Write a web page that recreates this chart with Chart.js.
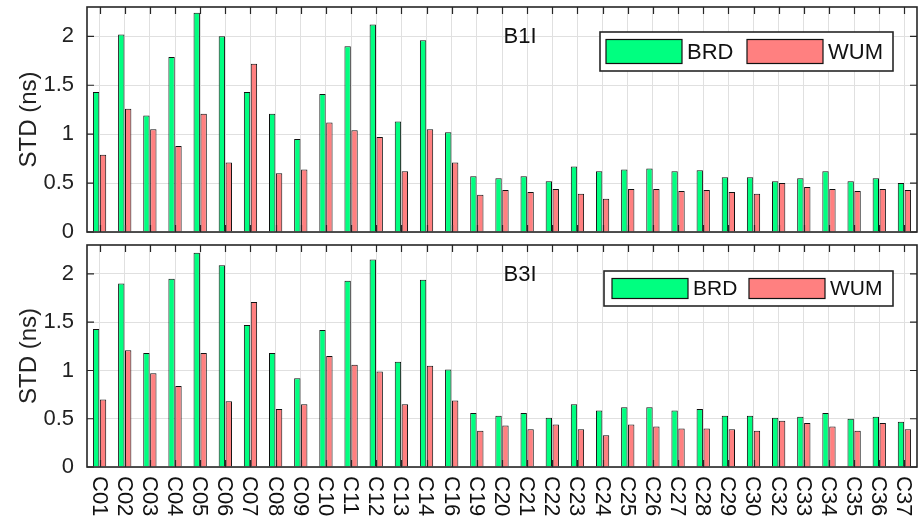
<!DOCTYPE html>
<html>
<head>
<meta charset="utf-8">
<script src="https://cdn.jsdelivr.net/npm/chart.js@4/dist/chart.umd.min.js"></script>
<style>
  html, body { margin: 0; padding: 0; background: #fff; }
  #wrap { position: relative; width: 923px; height: 521px; overflow: hidden; }
  .pane { position: absolute; left: 0; width: 923px; }
  #p1 { top: 0; height: 240px; }
  #p2 { top: 240px; height: 281px; }
</style>
</head>
<body>
<div id="wrap">
  <div class="pane" id="p1"><canvas id="c1"></canvas></div>
  <div class="pane" id="p2"><canvas id="c2"></canvas></div>
</div>
<script>
// ---- data ----
const categories = ['C01','C02','C03','C04','C05','C06','C07','C08','C09','C10','C11','C12','C13','C14',
  'C16','C19','C20','C21','C22','C23','C24','C25','C26','C27','C28','C29','C30',
  'C32','C33','C34','C35','C36','C37'];
const seriesNames = ['BRD', 'WUM'];
const panelTitles = ['B1I', 'B3I'];
const yTicks = [0, 0.5, 1, 1.5, 2];
const yAxisTitle = 'STD (ns)';

const b1iBRD = [1.43,2.02,1.19,1.79,2.24,2.00,1.43,1.21,0.95,1.41,1.90,2.12,1.13,1.96,
  1.02,0.57,0.55,0.57,0.52,0.67,0.62,0.64,0.65,0.62,0.63,0.56,0.56,
  0.52,0.55,0.62,0.52,0.55,0.50];
const b1iWUM = [0.79,1.26,1.05,0.88,1.21,0.71,1.72,0.60,0.64,1.12,1.04,0.97,0.62,1.05,
  0.71,0.38,0.43,0.41,0.44,0.39,0.34,0.44,0.44,0.42,0.43,0.41,0.39,
  0.50,0.46,0.44,0.42,0.44,0.43];
const b3iBRD = [1.43,1.90,1.18,1.95,2.22,2.09,1.47,1.18,0.92,1.42,1.93,2.15,1.09,1.94,
  1.01,0.56,0.53,0.56,0.51,0.65,0.585,0.62,0.62,0.585,0.60,0.53,0.53,
  0.51,0.52,0.56,0.50,0.52,0.47];
const b3iWUM = [0.70,1.21,0.97,0.84,1.18,0.68,1.71,0.60,0.65,1.15,1.06,0.99,0.65,1.05,
  0.69,0.375,0.43,0.39,0.44,0.39,0.33,0.44,0.42,0.40,0.40,0.39,0.375,
  0.48,0.455,0.42,0.375,0.455,0.39];

// ---- styles ----
const FONT = "'Liberation Sans', Arial, Helvetica, sans-serif";
const GREEN = '#00ff80';
const RED = '#ff8080';
const AXIS = '#262626';

const framePlugin = {
  id: 'frame',
  afterDraw(chart, args, o) {
    const { ctx, chartArea: a, scales: { x, y } } = chart;
    ctx.save();
    // inward tick marks
    ctx.strokeStyle = AXIS;
    ctx.lineWidth = 1.2;
    ctx.beginPath();
    x.ticks.forEach((t, i) => {
      const px = Math.round(x.getPixelForTick(i)) + 0.5;
      ctx.moveTo(px, a.top); ctx.lineTo(px, a.top + 7);
      ctx.moveTo(px, a.bottom); ctx.lineTo(px, a.bottom - 7);
    });
    y.ticks.forEach((t, i) => {
      const py = y.getPixelForTick(i);
      ctx.moveTo(a.left, py); ctx.lineTo(a.left + 7, py);
      ctx.moveTo(a.right, py); ctx.lineTo(a.right - 7, py);
    });
    ctx.stroke();
    // box
    ctx.lineWidth = 1.6;
    ctx.strokeRect(a.left, a.top, a.right - a.left, a.bottom - a.top);

    // panel title
    ctx.fillStyle = '#111';
    ctx.font = '22px ' + FONT;
    ctx.textAlign = 'center';
    ctx.textBaseline = 'middle';
    ctx.fillText(o.title, o.titleX, a.top + o.titleDy);

    // legend
    const L = o.legend;
    ctx.fillStyle = '#fff';
    ctx.fillRect(L.x, a.top + L.y, L.w, L.h);
    ctx.lineWidth = 1.6;
    ctx.strokeStyle = AXIS;
    ctx.strokeRect(L.x, a.top + L.y, L.w, L.h);
    ctx.font = L.font + 'px ' + FONT;
    ctx.textAlign = 'left';
    chart.data.datasets.forEach((ds, i) => {
      const sx = L.items[i];
      const sy = a.top + L.y + (L.h - L.sh) / 2;
      ctx.fillStyle = ds.backgroundColor;
      ctx.fillRect(sx, sy, L.sw, L.sh);
      ctx.lineWidth = 1.2;
      ctx.strokeStyle = '#111';
      ctx.strokeRect(sx, sy, L.sw, L.sh);
      ctx.fillStyle = '#111';
      ctx.fillText(ds.label, sx + L.sw + 5, sy + L.sh / 2 + 1);
    });

    // rotated x labels (reading top to bottom)
    if (o.xLabels) {
      ctx.font = '22px ' + FONT;
      ctx.fillStyle = '#111';
      ctx.textAlign = 'left';
      ctx.textBaseline = 'middle';
      chart.data.labels.forEach((lab, i) => {
        const px = x.getPixelForTick(i);
        ctx.save();
        ctx.translate(px - 1, a.bottom + 9);
        ctx.rotate(Math.PI / 2);
        ctx.fillText(lab, 0, 0);
        ctx.restore();
      });
    }
    ctx.restore();
  }
};

function makeChart(canvasId, brd, wum, opts) {
  return new Chart(document.getElementById(canvasId), {
    type: 'bar',
    data: {
      labels: categories,
      datasets: [
        { label: seriesNames[0], data: brd, backgroundColor: GREEN, borderColor: '#111', borderWidth: 1,
          categoryPercentage: 0.55, barPercentage: 0.92 },
        { label: seriesNames[1], data: wum, backgroundColor: RED, borderColor: '#111', borderWidth: 1,
          categoryPercentage: 0.55, barPercentage: 0.92 }
      ]
    },
    options: {
      responsive: true,
      maintainAspectRatio: false,
      animation: false,
      layout: { padding: { top: opts.padTop, right: 6, left: 0, bottom: 0 } },
      plugins: {
        legend: { display: false },
        tooltip: { enabled: false },
        frame: opts.frame
      },
      scales: {
        x: {
          type: 'category',
          offset: true,
          grid: { display: true, offset: false, color: '#e0e0e0', lineWidth: 1, drawTicks: false },
          border: { display: false },
          ticks: { display: false },
          afterFit: s => { s.height = opts.xHeight; s.paddingLeft = 0; s.paddingRight = 0; }
        },
        y: {
          min: 0, max: 2.3,
          grid: { color: '#e0e0e0', lineWidth: 1, drawTicks: false },
          border: { display: false },
          ticks: {
            stepSize: 0.5, padding: 13,
            color: '#222',
            font: { family: FONT, size: 22 },
            callback: v => yTicks.includes(v) ? String(v) : ''
          },
          afterBuildTicks: s => { s.ticks = s.ticks.filter(t => yTicks.includes(t.value)); },
          title: {
            display: true, text: yAxisTitle, color: '#222',
            font: { family: FONT, size: 24 },
            padding: { top: 15, bottom: 0 }
          },
          afterFit: s => { s.width = 87; s.paddingTop = 0; s.paddingBottom = 0; }
        }
      }
    },
    plugins: [framePlugin]
  });
}

makeChart('c1', b1iBRD, b1iWUM, {
  padTop: 7, xHeight: 8,
  frame: {
    title: panelTitles[0], titleX: 520, titleDy: 30, xLabels: false,
    legend: { x: 600, y: 25, w: 293, h: 39, sw: 76, sh: 24, font: 22, items: [606, 747] }
  }
});
makeChart('c2', b3iBRD, b3iWUM, {
  padTop: 5, xHeight: 54,
  frame: {
    title: panelTitles[1], titleX: 520, titleDy: 30, xLabels: true,
    legend: { x: 604, y: 26, w: 289, h: 35, sw: 76, sh: 20, font: 21, items: [612, 749] }
  }
});
</script>
</body>
</html>
